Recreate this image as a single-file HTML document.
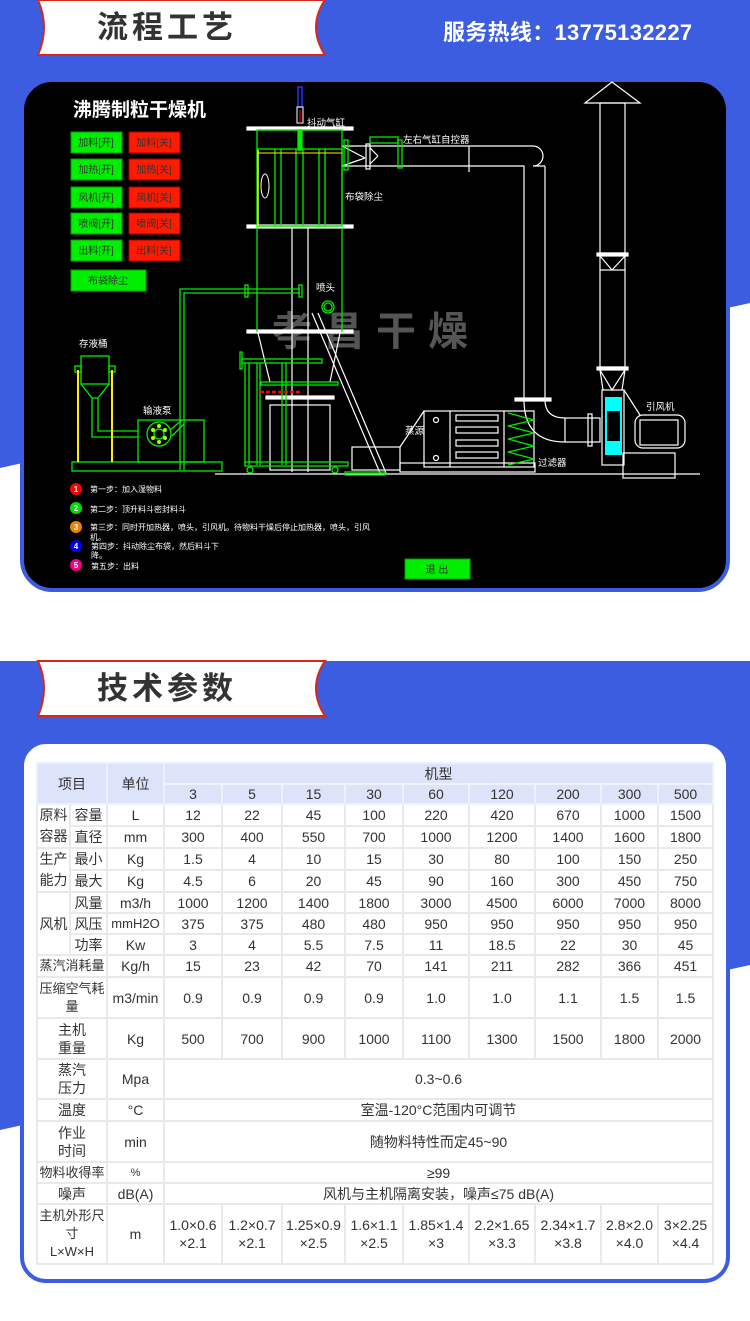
<!DOCTYPE html>
<html><head><meta charset="utf-8"><style>
*{margin:0;padding:0;box-sizing:border-box}
body{width:750px;height:1321px;position:relative;background:#fff;overflow:hidden;font-family:"Liberation Sans","Noto Sans CJK SC",sans-serif}
.abs{position:absolute}
table{position:absolute;left:36px;top:762px;border-collapse:collapse;table-layout:fixed;width:676px;font-family:"Liberation Sans Narrow","Liberation Sans","Noto Sans CJK SC",sans-serif;font-size:14px;color:#333}
td{border:2px solid #e8e8ee;text-align:center;vertical-align:middle;padding:0;line-height:18px;background:#fff;white-space:nowrap;overflow:hidden}
tr.h td{background:#dde3f8;border-color:#eef0fb}
</style></head><body>
<svg class="abs" style="left:0;top:0" width="750" height="1321">
<polygon points="0,0 750,0 750,303 0,468" fill="#3d5de0"/>
<polygon points="0,661 750,661 750,965 0,1130" fill="#3d5de0"/>
<path d="M38,0 Q50,27 38,55 L325,55 Q307,27 325,0Z" fill="#fff" stroke="#d8281c" stroke-width="2"/>
<path d="M38,661 Q50,688 38,716 L325,716 Q307,688 325,661Z" fill="#fff" stroke="#d8281c" stroke-width="2"/>
<rect x="22" y="80" width="706" height="510" rx="30" fill="#000" stroke="#3d5de0" stroke-width="4"/>
<rect x="22" y="742" width="706" height="539" rx="24" fill="#fff" stroke="#3d5de0" stroke-width="4"/>
</svg>
<div class="abs" style="left:97px;top:2px;font-size:31px;font-weight:bold;color:#333;letter-spacing:4px">流程工艺</div>
<div class="abs" style="left:97px;top:663px;font-size:31px;font-weight:bold;color:#333;letter-spacing:4px">技术参数</div>
<div class="abs" style="left:443px;top:15px;font-size:22px;font-weight:bold;color:#fff;letter-spacing:0.3px">服务热线：13775132227</div>

<svg class="abs" style="left:0;top:0" width="750" height="600" font-family="Liberation Sans,Noto Sans CJK SC,sans-serif">
<text x="272" y="345" font-size="40" font-weight="bold" fill="#555" letter-spacing="12">孝昌干燥</text>
<text x="73" y="116" font-size="19" font-weight="bold" fill="#fff">沸腾制粒干燥机</text>
<g font-size="10" fill="#333" text-anchor="middle">
<rect x="71" y="132" width="51" height="21" fill="#00ee00" stroke="#00a000"/><text x="96" y="146">加料[开]</text>
<rect x="129" y="132" width="51" height="21" fill="#ff1a00" stroke="#a00"/><text x="154" y="146">加料[关]</text>
<rect x="71" y="159" width="51" height="21" fill="#00ee00" stroke="#00a000"/><text x="96" y="173">加热[开]</text>
<rect x="129" y="159" width="51" height="21" fill="#ff1a00" stroke="#a00"/><text x="154" y="173">加热[关]</text>
<rect x="71" y="187" width="51" height="21" fill="#00ee00" stroke="#00a000"/><text x="96" y="201">风机[开]</text>
<rect x="129" y="187" width="51" height="21" fill="#ff1a00" stroke="#a00"/><text x="154" y="201">风机[关]</text>
<rect x="71" y="213" width="51" height="21" fill="#00ee00" stroke="#00a000"/><text x="96" y="227">喷阀[开]</text>
<rect x="129" y="213" width="51" height="21" fill="#ff1a00" stroke="#a00"/><text x="154" y="227">喷阀[关]</text>
<rect x="71" y="240" width="51" height="21" fill="#00ee00" stroke="#00a000"/><text x="96" y="254">出料[开]</text>
<rect x="129" y="240" width="51" height="21" fill="#ff1a00" stroke="#a00"/><text x="154" y="254">出料[关]</text>
<rect x="71" y="270" width="75" height="21" fill="#00ee00" stroke="#00a000"/><text x="108" y="284">布袋除尘</text>
<rect x="405" y="559" width="65" height="20" fill="#00ee00" stroke="#00a000"/><text x="437" y="573">退 出</text>
</g>
<g fill="none" stroke="#fff" stroke-width="1.2">
<rect x="247" y="127" width="106" height="3" fill="#fff"/>
<rect x="247" y="225" width="106" height="3" fill="#fff"/>
<rect x="247" y="330" width="106" height="3" fill="#fff"/>
<line x1="292" y1="228" x2="292" y2="472"/><line x1="308" y1="228" x2="308" y2="472"/>
<line x1="258" y1="333" x2="270" y2="382"/><line x1="340" y1="333" x2="330" y2="382"/>
<line x1="312" y1="313" x2="380" y2="473"/><line x1="318" y1="313" x2="386" y2="473"/>
<rect x="266" y="396" width="68" height="3" fill="#fff"/>
<rect x="270" y="405" width="60" height="65"/>
<line x1="215" y1="474" x2="700" y2="474"/>
<rect x="352" y="447" width="48" height="23"/><rect x="400" y="463" width="135" height="9"/>
<rect x="424" y="411" width="110" height="56"/><line x1="400" y1="447" x2="424" y2="411"/>
<line x1="450" y1="411" x2="450" y2="467"/><line x1="504" y1="411" x2="504" y2="467"/>
<rect x="456" y="415" width="42" height="6"/><rect x="456" y="427" width="42" height="6"/><rect x="456" y="440" width="42" height="6"/><rect x="456" y="452" width="42" height="6"/>
<circle cx="436" cy="420" r="2.5"/><circle cx="436" cy="458" r="2.5"/>
<path d="M342,146 H533 A10,10 0 0 1 533,166 H545 M342,166 H524 V400 M545,166 V400 Q545,418 565,418 M524,400 Q524,442 565,442"/>
<line x1="342" y1="146" x2="365" y2="158"/><line x1="342" y1="166" x2="365" y2="158"/>
<line x1="370" y1="148" x2="378" y2="156"/><line x1="370" y1="164" x2="378" y2="156"/>
<rect x="366" y="144" width="4" height="25"/><line x1="469" y1="146" x2="469" y2="172"/>
<rect x="515" y="398" width="36" height="3" fill="#fff"/>
<rect x="565" y="418" width="35" height="24"/><rect x="588" y="414" width="4" height="32"/>
<polygon points="612,82 585,103 640,103"/>
<rect x="600" y="103" width="25" height="150"/><rect x="597" y="253" width="31" height="3" fill="#fff"/>
<path d="M600,256 L612,270 L625,256 M600,256 V270 M625,256 V270"/>
<rect x="600" y="270" width="25" height="97"/><rect x="597" y="367" width="31" height="3" fill="#fff"/>
<path d="M600,370 L612,390 L625,370 L612,390 M600,370 L603,390 M625,370 L622,390"/>
<rect x="602" y="390" width="22" height="75"/>
<rect x="635" y="415" width="50" height="33" rx="8"/><rect x="640" y="420" width="38" height="25"/>
<rect x="623" y="453" width="52" height="25"/><line x1="624" y1="390" x2="640" y2="415"/>
</g>
<rect x="605" y="397" width="17" height="58" fill="#00ffff"/><rect x="607" y="411" width="13" height="30" fill="#000"/>
<g fill="none" stroke="#00ee00" stroke-width="1.3">
<rect x="257" y="130" width="85" height="96"/><rect x="258" y="149" width="84" height="77"/>
<line x1="275" y1="149" x2="275" y2="226"/><line x1="281" y1="149" x2="281" y2="226"/><line x1="296" y1="149" x2="296" y2="226"/><line x1="303" y1="149" x2="303" y2="226"/><line x1="319" y1="149" x2="319" y2="226"/><line x1="325" y1="149" x2="325" y2="226"/>
<rect x="298" y="130" width="4" height="20" fill="#00ee00"/>
<line x1="257" y1="228" x2="257" y2="332"/><line x1="342" y1="228" x2="342" y2="332"/>
<path d="M180,470 V289 H300 M184,470 V293 H300"/><rect x="245" y="285" width="3" height="12"/><rect x="299" y="285" width="3" height="12"/>
<circle cx="328" cy="307" r="6"/><circle cx="328" cy="307" r="4"/>
<rect x="240" y="352" width="2" height="17"/><rect x="242" y="359" width="80" height="4"/>
<line x1="245" y1="363" x2="245" y2="465"/><line x1="249" y1="363" x2="249" y2="465"/><line x1="257" y1="363" x2="257" y2="465"/><line x1="260" y1="363" x2="260" y2="465"/><line x1="282" y1="363" x2="282" y2="465"/><line x1="286" y1="363" x2="286" y2="465"/>
<rect x="261" y="382" width="77" height="3"/><rect x="245" y="462" width="103" height="4"/>
<circle cx="250" cy="470" r="3"/><circle cx="335" cy="470" r="3"/>
<rect x="370" y="137" width="28" height="6"/><rect x="398" y="140" width="4" height="28"/><rect x="344" y="140" width="4" height="30"/>
<path d="M508,413 L534,420 L508,426 L534,433 L508,439 L534,446 L508,452 L534,459 L508,465"/>
<rect x="81" y="356" width="28" height="28"/><rect x="75" y="366" width="6" height="6"/><rect x="109" y="366" width="6" height="6"/>
<path d="M81,384 L92,398 L98,398 L109,384 M92,398 V437 H138 M98,398 V431 H138"/>
<rect x="138" y="420" width="66" height="42"/><rect x="72" y="462" width="150" height="9"/>
<circle cx="159" cy="434" r="12"/><circle cx="159" cy="434" r="5"/>
<line x1="170" y1="430" x2="182" y2="420"/><line x1="172" y1="436" x2="184" y2="424"/>
<rect x="345" y="472" width="40" height="3"/>
</g>
<g fill="#aaff00"><circle cx="153" cy="430" r="2"/><circle cx="165" cy="430" r="2"/><circle cx="153" cy="438" r="2"/><circle cx="165" cy="438" r="2"/><circle cx="159" cy="426" r="2"/><circle cx="159" cy="442" r="2"/></g>
<line x1="78" y1="370" x2="78" y2="462" stroke="#ffee00" stroke-width="2"/><line x1="112" y1="370" x2="112" y2="462" stroke="#ffee00" stroke-width="2"/>
<line x1="258" y1="150" x2="258" y2="226" stroke="#ffee00" stroke-width="1.5"/><line x1="257" y1="153" x2="342" y2="153" stroke="#ffee00" stroke-width="1"/>
<ellipse cx="265" cy="186" rx="4" ry="12" fill="none" stroke="#fff"/>
<rect x="298" y="87" width="4" height="20" fill="none" stroke="#2233ff" stroke-width="1.5"/>
<rect x="297" y="107" width="6" height="16" fill="none" stroke="#fff"/><line x1="300" y1="110" x2="300" y2="123" stroke="#f00"/>
<line x1="260" y1="392" x2="301" y2="392" stroke="#f00" stroke-width="2.5" stroke-dasharray="4,2"/>
<g font-size="9.5" fill="#fff">
<text x="307" y="126">抖动气缸</text><text x="403" y="143">左右气缸自控器</text><text x="345" y="200">布袋除尘</text>
<text x="316" y="291">喷头</text><text x="405" y="434">蒸源</text><text x="538" y="466">过滤器</text><text x="646" y="410">引风机</text>
<text x="79" y="347">存液桶</text><text x="143" y="414">输液泵</text>
</g>
<g font-size="8" fill="#fff">
<circle cx="76" cy="489" r="6" fill="#f00"/><circle cx="76" cy="508" r="6" fill="#00dd00"/><circle cx="76" cy="527" r="6" fill="#f08000"/><circle cx="76" cy="546" r="6" fill="#0000ee"/><circle cx="76" cy="565" r="6" fill="#ee0088"/>
<g text-anchor="middle" font-weight="bold"><text x="76" y="492">1</text><text x="76" y="511">2</text><text x="76" y="530">3</text><text x="76" y="549">4</text><text x="76" y="568">5</text></g>
<text x="90" y="492">第一步：加入湿物料</text><text x="90" y="512">第二步：顶升料斗密封料斗</text>
<text x="90" y="530">第三步：同时开加热器，喷头，引风机。待物料干燥后停止加热器，喷头，引风</text><text x="90" y="540">机。</text>
<text x="91" y="549">第四步：抖动除尘布袋，然后料斗下</text><text x="91" y="558">降。</text>
<text x="91" y="569">第五步：出料</text>
</g>
</svg>

<table>
<colgroup><col style="width:33px"><col style="width:37px"><col style="width:57px"><col style="width:58px"><col style="width:60px"><col style="width:63px"><col style="width:58px"><col style="width:66px"><col style="width:66px"><col style="width:66px"><col style="width:57px"><col style="width:55px"></colgroup>
<tr class="h" style="height:21px"><td colspan="2" rowspan="2">项目</td><td rowspan="2">单位</td><td colspan="9">机型</td></tr>
<tr class="h" style="height:20px"><td>3</td><td>5</td><td>15</td><td>30</td><td>60</td><td>120</td><td>200</td><td>300</td><td>500</td></tr>
<tr style="height:21px"><td rowspan="2" style="line-height:21px">原料<br>容器</td><td>容量</td><td>L</td><td>12</td><td>22</td><td>45</td><td>100</td><td>220</td><td>420</td><td>670</td><td>1000</td><td>1500</td></tr>
<tr style="height:21px"><td>直径</td><td>mm</td><td>300</td><td>400</td><td>550</td><td>700</td><td>1000</td><td>1200</td><td>1400</td><td>1600</td><td>1800</td></tr>
<tr style="height:21px"><td rowspan="2" style="line-height:21px">生产<br>能力</td><td>最小</td><td>Kg</td><td>1.5</td><td>4</td><td>10</td><td>15</td><td>30</td><td>80</td><td>100</td><td>150</td><td>250</td></tr>
<tr style="height:21px"><td>最大</td><td>Kg</td><td>4.5</td><td>6</td><td>20</td><td>45</td><td>90</td><td>160</td><td>300</td><td>450</td><td>750</td></tr>
<tr style="height:21px"><td rowspan="3">风机</td><td>风量</td><td>m3/h</td><td>1000</td><td>1200</td><td>1400</td><td>1800</td><td>3000</td><td>4500</td><td>6000</td><td>7000</td><td>8000</td></tr>
<tr style="height:21px"><td>风压</td><td style="font-size:13px">mmH2O</td><td>375</td><td>375</td><td>480</td><td>480</td><td>950</td><td>950</td><td>950</td><td>950</td><td>950</td></tr>
<tr style="height:21px"><td>功率</td><td>Kw</td><td>3</td><td>4</td><td>5.5</td><td>7.5</td><td>11</td><td>18.5</td><td>22</td><td>30</td><td>45</td></tr>
<tr style="height:22px"><td colspan="2" style="font-size:13px">蒸汽消耗量</td><td>Kg/h</td><td>15</td><td>23</td><td>42</td><td>70</td><td>141</td><td>211</td><td>282</td><td>366</td><td>451</td></tr>
<tr style="height:41px"><td colspan="2" style="font-size:13px;white-space:normal">压缩空气耗<br>量</td><td>m3/min</td><td>0.9</td><td>0.9</td><td>0.9</td><td>0.9</td><td>1.0</td><td>1.0</td><td>1.1</td><td>1.5</td><td>1.5</td></tr>
<tr style="height:41px"><td colspan="2">主机<br>重量</td><td>Kg</td><td>500</td><td>700</td><td>900</td><td>1000</td><td>1100</td><td>1300</td><td>1500</td><td>1800</td><td>2000</td></tr>
<tr style="height:40px"><td colspan="2">蒸汽<br>压力</td><td>Mpa</td><td colspan="9">0.3~0.6</td></tr>
<tr style="height:22px"><td colspan="2">温度</td><td>°C</td><td colspan="9">室温-120°C范围内可调节</td></tr>
<tr style="height:41px"><td colspan="2">作业<br>时间</td><td>min</td><td colspan="9">随物料特性而定45~90</td></tr>
<tr style="height:21px"><td colspan="2" style="font-size:13px">物料收得率</td><td style="font-size:11px">%</td><td colspan="9">≥99</td></tr>
<tr style="height:21px"><td colspan="2">噪声</td><td>dB(A)</td><td colspan="9">风机与主机隔离安装，噪声≤75 dB(A)</td></tr>
<tr style="height:60px"><td colspan="2" style="font-size:13px">主机外形尺<br>寸<br>L×W×H</td><td>m</td><td>1.0×0.6<br>×2.1</td><td>1.2×0.7<br>×2.1</td><td>1.25×0.9<br>×2.5</td><td>1.6×1.1<br>×2.5</td><td>1.85×1.4<br>×3</td><td>2.2×1.65<br>×3.3</td><td>2.34×1.7<br>×3.8</td><td>2.8×2.0<br>×4.0</td><td>3×2.25<br>×4.4</td></tr>
</table>
</body></html>
